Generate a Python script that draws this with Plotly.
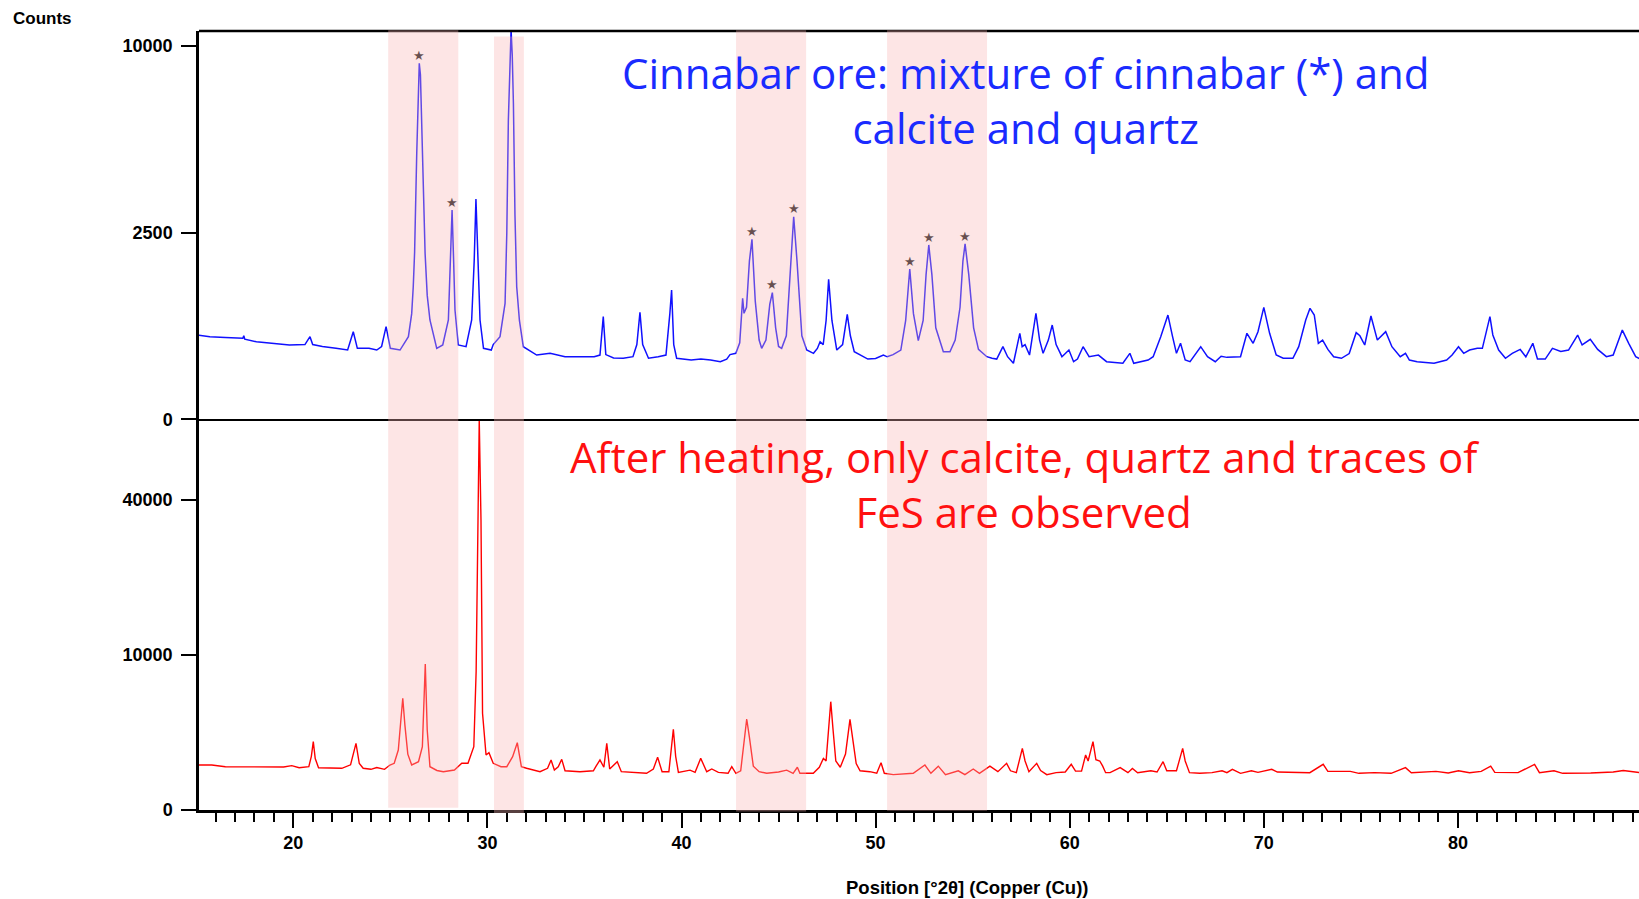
import numpy as np
import plotly.graph_objects as go

# ---------------- data ----------------
# Top pattern: cinnabar ore (2theta in degrees, counts)
top_2theta = [15.10, 15.70, 16.50, 17.40, 17.45, 17.50, 18.10, 19.00, 19.80, 20.60, 20.86, 21.00, 21.50, 22.20,
              22.80, 23.09, 23.30, 23.90, 24.30, 24.55, 24.78, 25.00, 25.50, 25.93, 26.10, 26.18, 26.25, 26.36,
              26.42, 26.49, 26.55, 26.61, 26.70, 26.79, 26.90, 27.04, 27.39, 27.70, 27.99, 28.10, 28.18, 28.26,
              28.33, 28.50, 28.90, 29.19, 29.32, 29.41, 29.50, 29.62, 29.80, 30.20, 30.30, 30.65, 30.91, 31.00,
              31.08, 31.15, 31.22, 31.28, 31.34, 31.42, 31.51, 31.65, 31.85, 32.54, 33.23, 34.00, 35.00, 35.50,
              35.80, 35.97, 36.10, 36.50, 37.00, 37.50, 37.70, 37.86, 38.00, 38.30, 38.80, 39.20, 39.40, 39.49,
              39.60, 39.75, 40.50, 41.00, 41.50, 42.00, 42.33, 42.50, 42.80, 43.00, 43.15, 43.22, 43.35, 43.50,
              43.63, 43.80, 44.00, 44.13, 44.35, 44.55, 44.68, 44.85, 45.00, 45.16, 45.40, 45.60, 45.78, 45.95,
              46.20, 46.45, 46.80, 47.00, 47.14, 47.30, 47.45, 47.58, 47.75, 48.00, 48.30, 48.54, 48.70, 48.90,
              49.20, 49.60, 50.00, 50.40, 50.60, 50.90, 51.30, 51.55, 51.76, 51.95, 52.20, 52.45, 52.60, 52.74,
              52.90, 53.10, 53.49, 53.83, 54.10, 54.35, 54.50, 54.61, 54.80, 55.05, 55.30, 55.73, 56.00, 56.24,
              56.56, 56.80, 57.10, 57.43, 57.55, 57.70, 57.93, 58.10, 58.26, 58.45, 58.63, 58.90, 59.10, 59.30,
              59.60, 59.96, 60.20, 60.40, 60.69, 61.00, 61.48, 61.90, 62.74, 63.10, 63.30, 64.04, 64.30, 64.69,
              65.06, 65.30, 65.50, 65.71, 65.95, 66.20, 66.75, 67.10, 67.50, 67.80, 68.10, 68.80, 69.13, 69.45,
              69.70, 70.00, 70.30, 70.64, 71.00, 71.50, 71.80, 72.16, 72.38, 72.60, 72.81, 73.03, 73.30, 73.60,
              74.00, 74.40, 74.76, 74.95, 75.20, 75.52, 75.85, 76.28, 76.60, 77.03, 77.30, 77.50, 77.90, 78.77,
              79.42, 79.70, 80.03, 80.30, 80.60, 81.00, 81.26, 81.65, 81.80, 82.10, 82.45, 82.80, 83.21, 83.50,
              83.86, 84.10, 84.50, 84.87, 85.30, 85.70, 86.17, 86.40, 86.82, 87.20, 87.65, 88.00, 88.47, 88.80,
              89.16, 89.40]
top_counts = [509, 489, 480, 470, 500, 460, 431, 414, 396, 400, 489, 400, 380, 361,
              344, 550, 361, 361, 344, 380, 615, 361, 344, 489, 800, 1260, 2000, 5069,
              7500, 9080, 8500, 6418, 3500, 1974, 1100, 707, 361, 396, 707, 1800, 3140, 1800,
              857, 396, 378, 707, 1800, 3480, 1800, 707, 361, 344, 400, 489, 964, 2500,
              6418, 9000, 10860, 9500, 7154, 3000, 1260, 700, 378, 296, 312, 281, 281, 281,
              296, 755, 300, 270, 267, 281, 400, 820, 400, 267, 281, 296, 800, 1198,
              400, 267, 252, 260, 252, 238, 260, 300, 312, 420, 1050, 805, 900, 1800,
              2321, 1000, 450, 361, 450, 950, 1149, 600, 380, 361, 500, 1500, 2940, 1800,
              500, 344, 312, 360, 431, 400, 700, 1404, 700, 344, 400, 790, 500, 327,
              296, 260, 265, 296, 280, 300, 344, 700, 1620, 800, 443, 700, 1500, 2178,
              1500, 600, 327, 327, 450, 900, 1800, 2203, 1500, 600, 350, 281, 267, 260,
              378, 281, 225, 530, 378, 400, 296, 500, 805, 450, 312, 450, 637, 400,
              281, 344, 238, 260, 378, 281, 296, 238, 225, 312, 225, 252, 281, 489,
              779, 489, 312, 414, 252, 238, 378, 281, 238, 285, 275, 281, 530, 414,
              550, 899, 530, 296, 267, 267, 378, 707, 883, 780, 414, 450, 350, 281,
              267, 310, 538, 500, 396, 765, 450, 550, 378, 281, 312, 252, 238, 225,
              252, 296, 378, 312, 344, 361, 361, 755, 510, 344, 267, 312, 350, 280,
              414, 260, 260, 361, 330, 344, 509, 396, 458, 350, 281, 296, 571, 414,
              281, 260]

# Bottom pattern: after heating
bottom_2theta = [15.10, 15.80, 16.50, 17.25, 18.00, 18.97, 19.50, 19.92, 20.30, 20.80, 20.93, 21.03, 21.13, 21.30,
                 21.89, 22.50, 22.95, 23.10, 23.23, 23.40, 23.60, 24.00, 24.30, 24.70, 24.98, 25.20, 25.41, 25.55,
                 25.64, 25.75, 25.90, 26.10, 26.45, 26.65, 26.80, 26.90, 27.04, 27.40, 27.73, 28.30, 28.68, 29.00,
                 29.30, 29.42, 29.48, 29.58, 29.67, 29.75, 29.93, 30.08, 30.30, 30.70, 31.00, 31.30, 31.54, 31.75,
                 32.02, 32.71, 33.10, 33.28, 33.45, 33.65, 33.83, 34.00, 34.77, 35.46, 35.60, 35.80, 36.00, 36.15,
                 36.30, 36.69, 36.90, 37.50, 38.20, 38.55, 38.77, 39.00, 39.35, 39.58, 39.70, 39.84, 40.44, 40.70,
                 40.99, 41.30, 41.56, 41.90, 42.40, 42.59, 42.80, 43.05, 43.22, 43.36, 43.50, 43.70, 44.00, 44.39,
                 45.00, 45.42, 45.75, 45.97, 46.10, 46.79, 47.10, 47.31, 47.45, 47.69, 47.80, 47.95, 48.18, 48.45,
                 48.68, 48.85, 49.00, 49.20, 49.70, 50.06, 50.28, 50.45, 50.91, 51.94, 52.54, 52.85, 53.23, 53.60,
                 54.26, 54.60, 55.03, 55.35, 55.89, 56.30, 56.75, 56.95, 57.25, 57.56, 57.70, 57.90, 58.30, 58.50,
                 58.82, 59.30, 59.77, 60.08, 60.30, 60.61, 60.82, 60.95, 61.20, 61.35, 61.55, 61.70, 61.85, 62.08,
                 62.60, 63.00, 63.23, 63.50, 64.18, 64.50, 64.81, 65.00, 65.50, 65.82, 65.95, 66.17, 66.70, 67.33,
                 67.85, 68.10, 68.38, 68.80, 69.36, 69.70, 70.41, 70.70, 71.50, 72.37, 73.06, 73.30, 74.46, 74.90,
                 75.70, 76.56, 77.30, 77.60, 78.87, 79.50, 80.03, 80.60, 81.20, 81.69, 81.90, 83.10, 83.95, 84.20,
                 84.95, 85.40, 86.84, 88.00, 88.52, 89.40]
bottom_counts = [843, 843, 780, 780, 780, 760, 770, 820, 745, 780, 1200, 1942, 1100, 745,
                 724, 724, 850, 1300, 1850, 900, 724, 689, 750, 689, 843, 907, 1498, 3500,
                 5194, 3000, 1300, 843, 972, 1668, 8873, 2664, 780, 650, 611, 666, 907, 907,
                 1668, 8000, 24640, 63500, 35000, 3890, 1259, 1367, 907, 780, 780, 1183, 1886, 780,
                 724, 611, 724, 1041, 666, 780, 1069, 640, 611, 640, 800, 1041, 760, 1850,
                 700, 972, 611, 590, 561, 700, 1156, 611, 611, 2711, 1200, 590, 660, 590,
                 1111, 611, 700, 590, 561, 780, 561, 640, 1900, 3447, 2200, 800, 611, 561,
                 600, 660, 561, 760, 561, 561, 760, 1111, 1000, 4884, 2800, 1000, 760, 1300,
                 3423, 1800, 900, 640, 611, 561, 931, 561, 520, 561, 843, 561, 800, 520,
                 640, 520, 700, 561, 800, 611, 907, 640, 580, 1584, 1000, 611, 907, 650,
                 520, 580, 600, 869, 630, 630, 1259, 1000, 1942, 1050, 1000, 800, 580, 580,
                 746, 580, 720, 580, 640, 600, 972, 640, 640, 1584, 1000, 580, 560, 580,
                 640, 580, 690, 560, 640, 590, 690, 600, 600, 580, 869, 620, 620, 560,
                 580, 560, 746, 580, 620, 570, 640, 580, 620, 800, 590, 580, 869, 580,
                 640, 560, 570, 600, 650, 580]

# Cinnabar peaks marked with a star
star_2theta = [26.49, 28.18, 31.22, 43.63, 44.68, 45.78, 51.76, 52.74, 54.61]
star_counts = [9080, 3140, 10860, 2321, 1149, 2940, 1620, 2178, 2203]

# Highlighted 2theta regions
band_start = [24.89, 30.34, 42.81, 50.59]
band_end = [28.50, 31.88, 46.42, 55.74]

# Axis ticks
x_ticks = [20, 30, 40, 50, 60, 70, 80]
top_ticks = [0, 2500, 10000]
bottom_ticks = [0, 10000, 40000]

# ---------------- figure ----------------
W, H = 1639, 899
ML, MR, MT, MB = 199, 0, 31, 89
split = 0.5015

fig = go.Figure()
fig.add_trace(go.Scatter(x=top_2theta, y=np.sqrt(top_counts), mode="lines",
                         line=dict(color="#1010ff", width=1.5), xaxis="x2", yaxis="y2",
                         hoverinfo="skip"))
fig.add_trace(go.Scatter(x=bottom_2theta, y=np.sqrt(bottom_counts), mode="lines",
                         line=dict(color="#ff0000", width=1.4), xaxis="x", yaxis="y",
                         hoverinfo="skip"))
fig.add_trace(go.Scatter(x=star_2theta, y=np.sqrt(star_counts), mode="text", text=["★"] * len(star_2theta),
                         textposition="top center", textfont=dict(size=13, color="#1a1a1a"),
                         xaxis="x2", yaxis="y2", cliponaxis=False, hoverinfo="skip"))

tickfont = dict(family="Liberation Sans, Arial, sans-serif", size=18, color="black", weight="bold")

fig.update_layout(
    width=W, height=H,
    margin=dict(l=ML, r=MR, t=MT, b=MB, pad=0),
    paper_bgcolor="white", plot_bgcolor="white",
    showlegend=False,
    xaxis=dict(domain=[0, 1], range=[15.142, 89.33], anchor="y",
               tickmode="array", tickvals=x_ticks, ticktext=[str(v) for v in x_ticks],
               ticks="outside", ticklen=15, tickwidth=2, tickcolor="black",
               showline=True, linewidth=2.5, linecolor="black",
               minor=dict(dtick=1, tick0=0, ticks="outside", ticklen=9, tickwidth=1.5, tickcolor="black"),
               tickfont=tickfont, showgrid=False, zeroline=False),
    xaxis2=dict(domain=[0, 1], matches="x", anchor="y2", showticklabels=False, ticks="",
                showline=True, linewidth=1.6, linecolor="black", showgrid=False, zeroline=False),
    yaxis=dict(domain=[0, split], range=[0, np.sqrt(63530)], anchor="x",
               tickmode="array", tickvals=list(np.sqrt(bottom_ticks)), ticktext=[str(v) for v in bottom_ticks],
               ticks="outside", ticklen=15, tickwidth=2, tickcolor="black", ticklabelstandoff=5,
               showline=True, linewidth=2.5, linecolor="black",
               tickfont=tickfont, showgrid=False, zeroline=False),
    yaxis2=dict(domain=[split, 1], range=[0, 103.93], anchor="x2",
                tickmode="array", tickvals=list(np.sqrt(top_ticks)), ticktext=[str(v) for v in top_ticks],
                ticks="outside", ticklen=15, tickwidth=2, tickcolor="black", ticklabelstandoff=5,
                showline=True, linewidth=2.5, linecolor="black",
                tickfont=tickfont, showgrid=False, zeroline=False),
)

# top frame line
fig.add_shape(type="line", xref="paper", yref="paper", x0=0, x1=1, y0=1, y1=1,
              line=dict(color="black", width=2.5), layer="above")

# highlighted bands
band_top = [1.001, 0.993, 1.001, 1.001]
band_bottom = [0.003, -0.004, -0.002, -0.001]
for xs, xe, yt, yb in zip(band_start, band_end, band_top, band_bottom):
    fig.add_shape(type="rect", xref="x", yref="paper", x0=xs, x1=xe, y0=yb, y1=yt,
                  fillcolor="rgba(250,180,180,0.35)", line=dict(width=0), layer="above")

ann_font = "Open Sans, Lato, sans-serif"
def ann(text, x, y, size, color, family=ann_font, weight="normal"):
    fig.add_annotation(text=text, xref="paper", yref="paper", x=x, y=y, showarrow=False,
                       xanchor="center", yanchor="middle", align="center",
                       font=dict(family=family, size=size, color=color, weight=weight))

ann("Cinnabar ore: mixture of cinnabar (*) and<br>calcite and quartz", 0.5737, 0.9120, 42, "#1a2bff")
ann("After heating, only calcite, quartz and traces of<br>FeS are observed", 0.5737, 0.4185, 42, "#ff1010")

ann("Counts", -0.1089, 1.0163, 17, "black", family="Liberation Sans, Arial, sans-serif", weight="bold")
ann("Position [°2θ] (Copper (Cu))", 0.5335, -0.1001, 18.5, "black",
    family="Liberation Sans, Arial, sans-serif", weight="bold")

fig.write_html("out.html")
